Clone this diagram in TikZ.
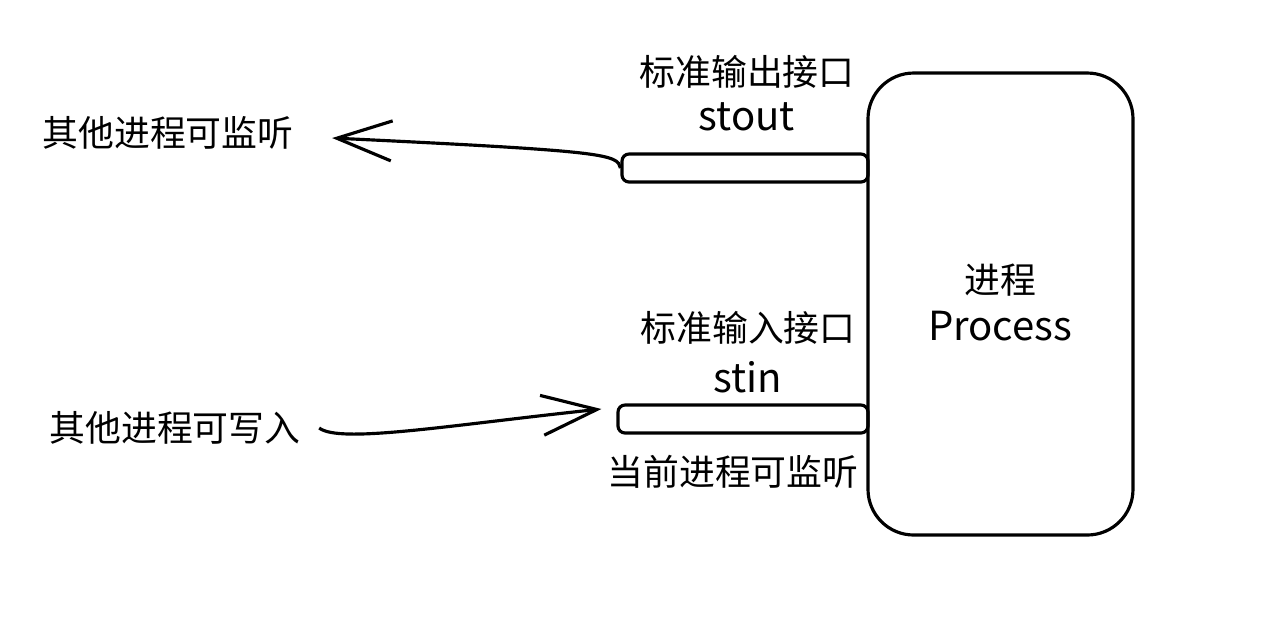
\documentclass[tikz,border=0pt]{standalone}
\usepackage{fontspec}
\setmainfont{Noto Sans CJK SC}
\usetikzlibrary{arrows.meta,calc}

\tikzset{
    pipe/.style={draw, line width=0.9pt, rounded corners=2pt, minimum width=24.6mm, minimum height=2.8mm, inner sep=0pt},
    procbox/.style={draw, line width=0.9pt, rounded corners=13pt, minimum width=26.5mm, minimum height=46.2mm, inner sep=0pt},
    zh/.style={font=\fontsize{10.2pt}{12pt}\selectfont, inner sep=0pt},
    en/.style={font=\fontsize{11.4pt}{14pt}\selectfont, inner sep=0pt},
    flow/.style={line width=0.9pt, -{Straight Barb[length=5.5mm, width=4mm, line width=0.9pt]}},
}

\begin{document}
\begin{tikzpicture}[x=0.1mm, y=-0.1mm]
    \useasboundingbox (0, 0) rectangle (1274, 636);

    % process
    \node[procbox] (proc) at (1000.5, 304) {};
    \node[zh] (proczh) at (1000, 280) {进程};
    \node[en] (procen) at (1000, 326) {Process};

    % pipes
    \node[pipe] (outpipe) at (745, 168) {};
    \node[pipe, minimum width=25mm] (inpipe) at (743, 419) {};

    \node[zh] (outzh) at (747, 72) {标准输出接口};
    \node[en] (outen) at (747, 117) {stout};
    \node[zh] (inzh) at (748, 328) {标准输入接口};
    \node[en] (inen) at (748, 377) {stin};
    \node[zh] (listen) at (733, 472) {当前进程可监听};

    % other processes
    \node[zh] (readers) at (168, 133) {其他进程可监听};
    \node[zh] (writers) at (175, 428) {其他进程可写入};

    \coordinate (readtip) at ($(readers.east)+(38, 5)$);
    \coordinate (writetail) at ($(writers.east)+(18, 0)$);
    \coordinate (writetip) at ($(inpipe.west)+(-15, -10)$);

    \draw[flow] (outpipe.west) .. controls (618, 154) and (604, 151) .. (readtip);
    \draw[flow] (writetail) .. controls (340, 444) and (450, 425) .. (writetip);
\end{tikzpicture}
\end{document}
